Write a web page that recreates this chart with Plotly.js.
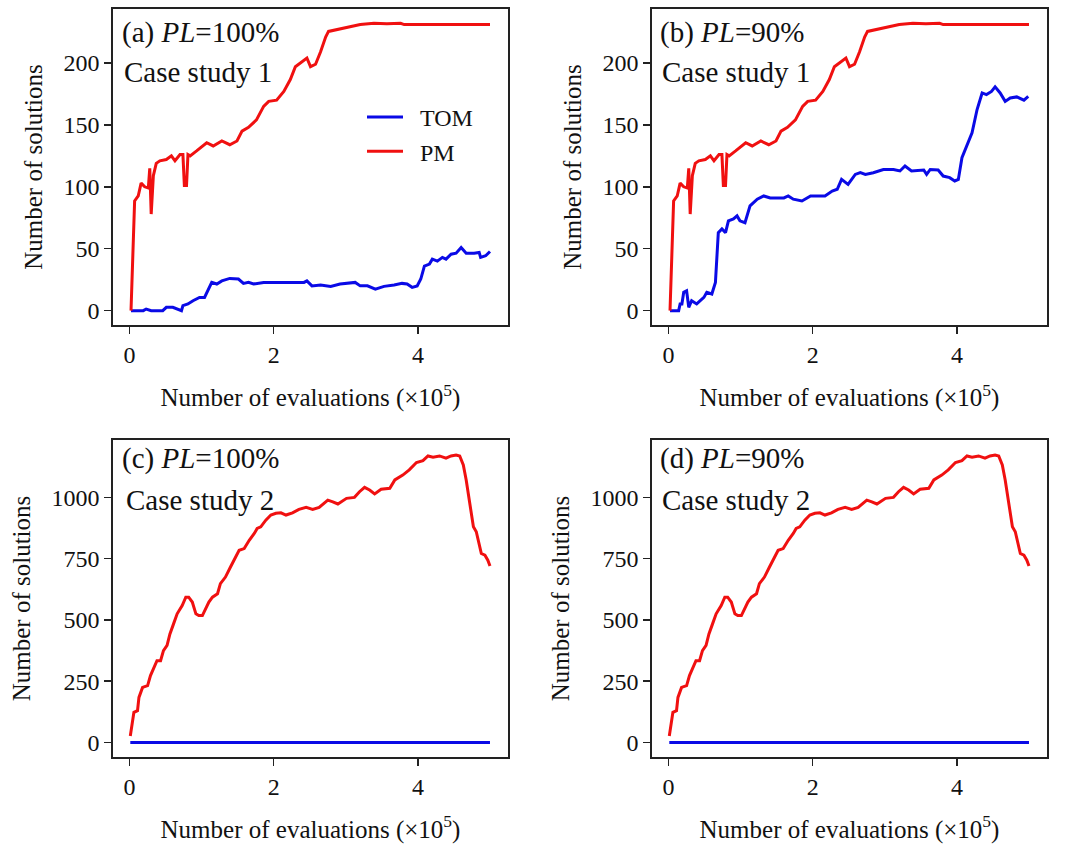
<!DOCTYPE html>
<html>
<head>
<meta charset="utf-8">
<script src="https://cdn.plot.ly/plotly-3.0.1.min.js"></script>
<style>html,body{margin:0;padding:0;background:#fff;}</style>
</head>
<body>
<div id="chart" style="width:1071px;height:844px;"></div>
<script>
// ---------- Data (x in units of 10^5 evaluations) ----------
// Case study 1, PM (same in panels a and b)
const pm1X = [0.02,0.07,0.12,0.16,0.21,0.26,0.28,0.30,0.33,0.37,0.42,0.51,0.58,0.63,0.70,0.74,0.76,0.79,0.81,0.84,0.93,1.07,1.16,1.28,1.39,1.49,1.56,1.65,1.76,1.86,1.93,2.04,2.14,2.23,2.30,2.39,2.46,2.51,2.58,2.65,2.72,2.76,2.88,3.02,3.20,3.39,3.57,3.76,3.81,5.00];
const pm1Y = [0,88.6,92.6,103,100,99,115,78,109,119,121,122,125,121,126,126,101,101,126,125,129,135.6,133,137,134,137,145,148,154,165,169,170,177,186.6,197,201,204,197,199,209,221,225.5,227,229,231,232,231.7,232,231,231];

// Case study 1, TOM, PL=100% (panel a)
const tomAX = [0.02,0.19,0.23,0.30,0.46,0.51,0.60,0.65,0.72,0.74,0.81,0.88,0.97,1.04,1.09,1.14,1.21,1.28,1.39,1.51,1.58,1.65,1.72,1.86,2.14,2.42,2.46,2.53,2.65,2.79,2.92,3.13,3.20,3.30,3.41,3.53,3.67,3.78,3.85,3.92,3.99,4.04,4.09,4.16,4.20,4.27,4.34,4.39,4.46,4.53,4.60,4.67,4.78,4.85,4.87,4.94,5.00];
const tomAY = [0,0,1.3,0,0,2.7,2.7,1.3,0,4,5.4,8,10.7,10.7,17.4,22.8,21.5,24,26,25.5,22,22.8,21.5,22.8,22.8,22.8,24,20,20.7,19.6,21.5,22.8,20,20,17.4,19.6,20.7,22,21.5,18.8,20,25.5,36,37.6,41.6,40,43,41.6,45.6,46.4,51,46.4,46.4,47,43,44.3,47.8];

// Case study 1, TOM, PL=90% (panel b)
const tomBX = [0.02,0.14,0.16,0.185,0.21,0.25,0.28,0.32,0.39,0.49,0.53,0.60,0.65,0.67,0.69,0.74,0.79,0.83,0.90,0.95,0.99,1.06,1.13,1.23,1.32,1.41,1.60,1.66,1.73,1.85,1.97,2.17,2.27,2.34,2.40,2.49,2.59,2.66,2.73,2.84,2.98,3.12,3.21,3.28,3.37,3.54,3.58,3.63,3.74,3.81,3.90,3.97,4.02,4.07,4.14,4.21,4.28,4.35,4.41,4.48,4.53,4.60,4.67,4.74,4.83,4.90,4.93,4.99];
const tomBY = [0,0,5.4,5.4,14.8,16,2.7,8,5.4,10.7,14.8,13.4,22.8,44,63,66,63,72.5,74,76.5,72.5,71,84.6,90,92.6,91,91,92.6,90,88.6,92.6,92.6,96.6,98,106,102,110,111.4,110,111.4,114,114,112.8,116.8,112.8,113.6,110,114,113.6,108.7,107.4,104.7,106,123.5,133,143.6,162.4,175.8,174.5,177,180.7,175.8,169,171.8,172.6,171,170,173];

// Case study 2, PM (same in panels c and d)
const pm2X = [0.01,0.04,0.06,0.11,0.13,0.18,0.25,0.29,0.34,0.38,0.43,0.47,0.52,0.56,0.61,0.66,0.73,0.78,0.82,0.87,0.92,0.96,1.01,1.06,1.10,1.15,1.22,1.26,1.33,1.40,1.47,1.52,1.59,1.66,1.73,1.77,1.82,1.89,1.96,2.03,2.10,2.17,2.26,2.35,2.45,2.54,2.63,2.75,2.82,2.89,3.01,3.12,3.19,3.26,3.33,3.40,3.49,3.61,3.68,3.79,3.88,3.98,4.07,4.14,4.21,4.30,4.39,4.46,4.53,4.58,4.63,4.67,4.72,4.77,4.81,4.86,4.88,4.93,4.97,5.00];
const pm2Y = [27,89,123,130,184,225,232,273,307,334,334,375,396,443,484,525,559,593,593,573,525,518,518,552,573,593,607,648,675,716,757,784,791,825,853,873,880,907,928,935,937,928,937,951,959,951,959,989,982,973,996,1000,1023,1041,1030,1014,1033,1037,1071,1091,1112,1142,1150,1169,1164,1169,1160,1169,1173,1169,1132,1071,975,880,860,798,771,764,744,720];

// Case study 2, TOM (flat at zero)
const tom2X = [0.01,5.00];
const tom2Y = [0,0];

// Labels
const seriesNames = ["TOM","PM"];
const panelTitles = ["(a) <i>PL</i>=100%","(b) <i>PL</i>=90%","(c) <i>PL</i>=100%","(d) <i>PL</i>=90%"];
const caseLabels = ["Case study 1","Case study 1","Case study 2","Case study 2"];
const xTicks = [0,2,4];
const yTicksTop = [0,50,100,150,200];
const yTicksBottom = [0,250,500,750,1000];
const xTitle = "Number of evaluations (×10<sup>5</sup>)";
const yTitle = "Number of solutions";

// ---------- Styling ----------
const W = 1071, H = 844;
const FONT = "Liberation Serif, Times New Roman, serif";
const BLUE = "#0a0ae6", RED = "#f01010";
const LW = 3;
const LEGEND_PAD = "&nbsp;&nbsp;";

function line(x, y, name, color, xa, ya, show) {
  return {x: x, y: y, name: LEGEND_PAD + name, type: "scatter", mode: "lines",
          line: {color: color, width: LW}, xaxis: xa, yaxis: ya,
          showlegend: show, hoverinfo: "skip"};
}

const traces = [
  line(tomAX, tomAY, seriesNames[0], BLUE, "x", "y", true),
  line(pm1X, pm1Y, seriesNames[1], RED, "x", "y", true),
  line(tomBX, tomBY, seriesNames[0], BLUE, "x2", "y2", false),
  line(pm1X, pm1Y, seriesNames[1], RED, "x2", "y2", false),
  line(tom2X, tom2Y, seriesNames[0], BLUE, "x3", "y3", false),
  line(pm2X, pm2Y, seriesNames[1], RED, "x3", "y3", false),
  line(tom2X, tom2Y, seriesNames[0], BLUE, "x4", "y4", false),
  line(pm2X, pm2Y, seriesNames[1], RED, "x4", "y4", false)
];

function xaxis(domain, anchor) {
  return {domain: domain, anchor: anchor, range: [-0.23, 5.25],
          tickmode: "array", tickvals: xTicks, ticks: "outside", ticklen: 7, tickwidth: 1.5,
          tickcolor: "#222", showline: true, mirror: true, linecolor: "#222", linewidth: 1.8,
          showgrid: false, zeroline: false, tickfont: {family: FONT, size: 24, color: "#111"},
          title: {text: xTitle, font: {family: FONT, size: 25, color: "#111"}, standoff: 22},
          automargin: false};
}
function yaxis(domain, anchor, range, ticks) {
  return {domain: domain, anchor: anchor, range: range,
          tickmode: "array", tickvals: ticks, ticks: "outside", ticklen: 7, tickwidth: 1.5,
          tickcolor: "#222", showline: true, mirror: true, linecolor: "#222", linewidth: 1.8,
          showgrid: false, zeroline: false, tickfont: {family: FONT, size: 24, color: "#111"},
          title: {text: yTitle, font: {family: FONT, size: 25, color: "#111"}, standoff: 14},
          automargin: false};
}

const xA = [113/W, 508/W], xB = [652/W, 1047/W];
const yTop = [1 - 325/H, 1 - 9/H], yBot = [1 - 757/H, 1 - 440/H];
const rTop = [-11.6, 243.6], rBot = [-59, 1234];

const annPos = [
  [120, 33, 122, 72],
  [658, 33, 660, 72],
  [120, 458, 124, 500],
  [658, 458, 660, 500]
];
const annotations = [];
annPos.forEach((p, i) => {
  annotations.push({xref: "paper", yref: "paper", x: p[0]/W, y: 1 - p[1]/H,
    xanchor: "left", yanchor: "middle", showarrow: false, text: panelTitles[i],
    font: {family: FONT, size: 29, color: "#111"}});
  annotations.push({xref: "paper", yref: "paper", x: p[2]/W, y: 1 - p[3]/H,
    xanchor: "left", yanchor: "middle", showarrow: false, text: caseLabels[i],
    font: {family: FONT, size: 29, color: "#111"}});
});

const layout = {
  width: W, height: H,
  margin: {l: 0, r: 0, t: 0, b: 0},
  paper_bgcolor: "#fff", plot_bgcolor: "#fff",
  showlegend: true,
  legend: {x: 362/W, y: 1 - 95/H, xanchor: "left", yanchor: "top",
           bgcolor: "rgba(0,0,0,0)", borderwidth: 0,
           font: {family: FONT, size: 24, color: "#111"}, itemwidth: 36},
  xaxis: xaxis(xA, "y"), yaxis: yaxis(yTop, "x", rTop, yTicksTop),
  xaxis2: xaxis(xB, "y2"), yaxis2: yaxis(yTop, "x2", rTop, yTicksTop),
  xaxis3: xaxis(xA, "y3"), yaxis3: yaxis(yBot, "x3", rBot, yTicksBottom),
  xaxis4: xaxis(xB, "y4"), yaxis4: yaxis(yBot, "x4", rBot, yTicksBottom),
  annotations: annotations
};

Plotly.newPlot("chart", traces, layout, {staticPlot: true, displayModeBar: false});
</script>
</body>
</html>
